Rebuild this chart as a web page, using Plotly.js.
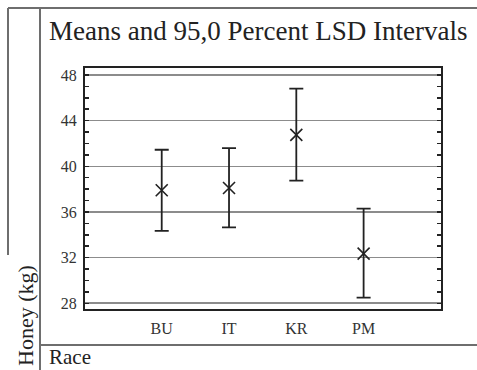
<!DOCTYPE html>
<html>
<head>
<meta charset="utf-8">
<script src="https://cdn.plot.ly/plotly-3.0.1.min.js"></script>
<style>
  html, body { margin: 0; padding: 0; background: #fff; }
  #chart { width: 477px; height: 370px; }
</style>
</head>
<body>
<div id="chart"></div>
<script>
// Honey yield by race: group means with 95% LSD interval bounds
const races = ['BU', 'IT', 'KR', 'PM'];
const means = [37.9, 38.1, 42.75, 32.35];
const lower = [34.35, 34.65, 38.75, 28.5];
const upper = [41.45, 41.6, 46.8, 36.3];
const yTicks = [28, 32, 36, 40, 44, 48];

const W = 477, H = 370;
const M = { l: 85, r: 36, t: 68, b: 61 };
const PW = W - M.l - M.r, PH = H - M.t - M.b;
// pixel -> paper coordinates for the surrounding table rules and labels
const px = x => (x - M.l) / PW;
const py = y => (H - M.b - y) / PH;

const serif = 'Liberation Serif, Times New Roman, serif';
const ink = '#222';
const rule = '#6e6e6e';

const trace = {
  type: 'scatter',
  mode: 'markers',
  x: races,
  y: means,
  marker: { symbol: 'x-thin-open', size: 12, color: ink, line: { color: ink, width: 1.6 } },
  error_y: {
    type: 'data',
    symmetric: false,
    array: upper.map((u, i) => u - means[i]),
    arrayminus: means.map((m, i) => m - lower[i]),
    color: ink,
    thickness: 1.8,
    width: 7
  },
  hoverinfo: 'skip'
};

function hline(y, x0, x1) {
  return { type: 'line', xref: 'paper', yref: 'paper', x0: px(x0), x1: px(x1), y0: py(y), y1: py(y),
           line: { color: rule, width: 2 } };
}
function vline(x, y0, y1) {
  return { type: 'line', xref: 'paper', yref: 'paper', x0: px(x), x1: px(x), y0: py(y0), y1: py(y1),
           line: { color: rule, width: 2 } };
}

const layout = {
  width: W, height: H, autosize: false,
  margin: M,
  paper_bgcolor: '#fff', plot_bgcolor: '#fff',
  showlegend: false,
  font: { family: serif, color: ink },
  title: {
    text: 'Means and 95,0 Percent LSD Intervals',
    font: { family: serif, size: 27, color: ink },
    xref: 'container', x: 49 / W, xanchor: 'left',
    yref: 'container', y: 1 - 31 / H, yanchor: 'middle'
  },
  xaxis: {
    type: 'category',
    range: [-1.14, 4.15],
    showgrid: false, zeroline: false,
    showline: true, linecolor: ink, linewidth: 2, mirror: true,
    ticks: '', ticklabelstandoff: 4,
    tickfont: { family: serif, size: 16, color: '#333' }
  },
  yaxis: {
    range: [27.5, 48.61],
    tickvals: yTicks,
    ticktext: yTicks.map(String),
    ticks: 'inside', ticklen: 4, tickwidth: 1.5, tickcolor: ink,
    minor: { dtick: 1, tick0: 0, ticks: 'inside', ticklen: 4, tickwidth: 1.5, tickcolor: ink, showgrid: false },
    showgrid: true, gridcolor: '#8c8c8c', gridwidth: 1.6,
    zeroline: false,
    showline: true, linecolor: ink, linewidth: 2, mirror: 'ticks',
    ticklabelstandoff: 3,
    tickfont: { family: serif, size: 16, color: '#333' }
  },
  shapes: [
    hline(8, 8, W),
    vline(8, 8, 255),
    vline(40, 8, H),
    hline(345, 40, W)
  ],
  annotations: [
    {
      text: 'Honey (kg)', textangle: -90, showarrow: false,
      xref: 'paper', yref: 'paper', x: px(25), y: py(316),
      xanchor: 'center', yanchor: 'middle',
      font: { family: serif, size: 22, color: ink }
    },
    {
      text: 'Race', showarrow: false,
      xref: 'paper', yref: 'paper', x: px(47), y: py(357),
      xanchor: 'left', yanchor: 'middle',
      font: { family: serif, size: 21, color: ink }
    }
  ]
};

Plotly.newPlot('chart', [trace], layout, { staticPlot: true, displayModeBar: false });
</script>
</body>
</html>
